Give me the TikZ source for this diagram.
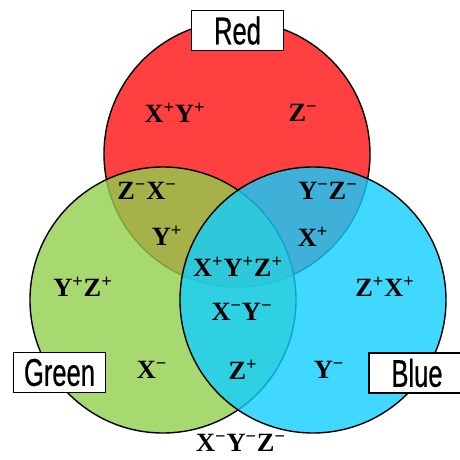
\documentclass[tikz,border=0pt]{standalone}
\usepackage{fontspec}
\newfontfamily\setfont[FakeStretch=0.66, FakeBold=0.6]{Liberation Sans}
\newfontfamily\regfont{Liberation Serif}

\definecolor{redset}{RGB}{255,64,64}
\definecolor{greenset}{RGB}{146,206,76}
\definecolor{blueset}{RGB}{16,206,255}

\newcommand\spos[1]{#1\textsuperscript{+}}
\newcommand\sneg[1]{#1\textsuperscript{−}}

\begin{document}
\begin{tikzpicture}[
    setbox/.style={draw, fill=white, line width=1.1pt, minimum width=1.84cm,
      minimum height=0.8cm, inner sep=0pt, font=\setfont\fontsize{22}{22}\selectfont},
    region/.style={font=\regfont\bfseries\fontsize{15}{15}\selectfont, inner sep=1pt}
  ]
  \useasboundingbox (0,0) rectangle (9.2,9.2);
  % the three sets
  \filldraw[fill=redset, line width=0.8pt] (4.74,6.12) circle (2.66);
  \filldraw[fill=greenset, fill opacity=0.8, line width=0.8pt] (3.26,3.20) circle (2.66);
  \filldraw[fill=blueset, fill opacity=0.8, line width=0.8pt] (6.26,3.20) circle (2.66);

  % set names
  \node[setbox] (red)   at (4.75,8.59) {Red};
  \node[setbox] (green) at (1.19,1.75) {Green};
  \node[setbox, minimum width=1.92cm] (blue) at (8.34,1.74) {Blue};

  % regions
  \node[region] (rXY)  at (3.50,6.94) {\spos{X}\spos{Y}};
  \node[region] (rZ)   at (6.06,6.94) {\sneg{Z}};
  \node[region] (rgZX) at (2.94,5.38) {\sneg{Z}\sneg{X}};
  \node[region] (rgY)  at (3.34,4.48) {\spos{Y}};
  \node[region] (rbYZ) at (6.56,5.38) {\sneg{Y}\sneg{Z}};
  \node[region] (rbX)  at (6.26,4.46) {\spos{X}};
  \node[region] (all)  at (4.76,3.86) {\spos{X}\spos{Y}\spos{Z}};
  \node[region] (gYZ)  at (1.66,3.46) {\spos{Y}\spos{Z}};
  \node[region] (bZX)  at (7.70,3.46) {\spos{Z}\spos{X}};
  \node[region] (gbXY) at (4.84,2.96) {\sneg{X}\sneg{Y}};
  \node[region] (gX)   at (3.04,1.80) {\sneg{X}};
  \node[region] (gbZ)  at (4.86,1.80) {\spos{Z}};
  \node[region] (bY)   at (6.58,1.80) {\sneg{Y}};
  \node[region] (none) at (4.82,0.34) {\sneg{X}\sneg{Y}\sneg{Z}};
\end{tikzpicture}
\end{document}
